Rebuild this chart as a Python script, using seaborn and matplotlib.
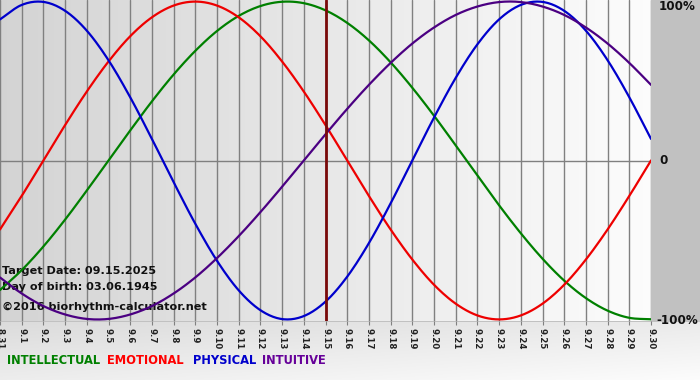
import numpy as np
import pandas as pd
import matplotlib
matplotlib.use("Agg")
import matplotlib.pyplot as plt
import seaborn as sns

# ---- data ----
dates = ["8.31"] + [f"9.{d}" for d in range(1, 31)]
physical = [0.888, 0.979, 0.998, 0.942, 0.817, 0.631, 0.398, 0.136, -0.136, -0.398,
            -0.631, -0.817, -0.942, -0.998, -0.979, -0.888, -0.731, -0.520, -0.270,
            0.000, 0.270, 0.520, 0.731, 0.888, 0.979, 0.998, 0.942, 0.817, 0.631,
            0.398, 0.136]
emotional = [-0.434, -0.223, 0.000, 0.223, 0.434, 0.623, 0.782, 0.901, 0.975, 1.000,
             0.975, 0.901, 0.782, 0.623, 0.434, 0.223, 0.000, -0.223, -0.434, -0.623,
             -0.782, -0.901, -0.975, -1.000, -0.975, -0.901, -0.782, -0.623, -0.434,
             -0.223, 0.000]
intellectual = [-0.815, -0.690, -0.541, -0.372, -0.189, 0.000, 0.189, 0.372, 0.541,
                0.690, 0.815, 0.910, 0.972, 0.999, 0.990, 0.945, 0.866, 0.756, 0.618,
                0.458, 0.282, 0.095, -0.095, -0.282, -0.458, -0.618, -0.756, -0.866,
                -0.945, -0.990, -0.999]
intuitive = [-0.736, -0.837, -0.916, -0.969, -0.997, -0.997, -0.969, -0.916, -0.837,
             -0.736, -0.614, -0.476, -0.325, -0.165, 0.000, 0.165, 0.325, 0.476, 0.614,
             0.736, 0.837, 0.916, 0.969, 0.997, 0.997, 0.969, 0.916, 0.837, 0.736,
             0.614, 0.476]
series_names = ["INTELLECTUAL", "EMOTIONAL", "PHYSICAL", "INTUITIVE"]
colors = {"INTELLECTUAL": "#008000", "EMOTIONAL": "#ee0000",
          "PHYSICAL": "#0000cc", "INTUITIVE": "#4b0082"}
legend_colors = {"INTELLECTUAL": "#008000", "EMOTIONAL": "#ff0000",
                 "PHYSICAL": "#0000cc", "INTUITIVE": "#660099"}
target_index = 15
info_lines = ["Target Date: 09.15.2025", "Day of birth: 03.06.1945",
              "\u00a92016 biorhythm-calculator.net"]
y_labels = ["100%", "0", "-100%"]


def smooth_curve(vals, steps=12):
    """Catmull-Rom rendering of the daily readings (drawing style only)."""
    p = np.asarray(vals, dtype=float)
    n = len(p)
    ext = np.concatenate([[2 * p[0] - p[1]], p, [2 * p[-1] - p[-2]]])
    xs, ys = [], []
    for i in range(n - 1):
        p0, p1, p2, p3 = ext[i], ext[i + 1], ext[i + 2], ext[i + 3]
        t = np.linspace(0, 1, steps, endpoint=False)
        y = 0.5 * ((2 * p1) + (-p0 + p2) * t + (2 * p0 - 5 * p1 + 4 * p2 - p3) * t ** 2
                   + (-p0 + 3 * p1 - 3 * p2 + p3) * t ** 3)
        xs.extend(i + t)
        ys.extend(y)
    xs.append(n - 1)
    ys.append(p[-1])
    return xs, ys


rows = []
for name, vals in zip(series_names, [intellectual, emotional, physical, intuitive]):
    xs, ys = smooth_curve(vals)
    for x, v in zip(xs, ys):
        rows.append({"day": x, "value": v, "series": name})
df = pd.DataFrame(rows)

sns.set_theme(style="white")
plt.rcParams["font.family"] = ["DejaVu Sans"]

W, H = 700, 380
fig = plt.figure(figsize=(7, 3.8), dpi=100)
fig.patch.set_facecolor("#c2c2c2")

# background gradient (bottom strip lighter towards bottom right)
bg = fig.add_axes([0, 0, 1, 1], zorder=-10)
bg.axis("off")
yy, xx = np.mgrid[0:H, 0:W]
val = np.full((H, W), 0.76)
bottom = yy > 321
bv = 0.86 + 0.06 * (xx / W) + 0.07 * ((yy - 321) / 59.0)
val[bottom] = np.clip(bv[bottom], 0, 0.99)
img = np.dstack([val, val, val])
bg.imshow(img, extent=[0, W, H, 0], aspect="auto")
bg.set_xlim(0, W)
bg.set_ylim(H, 0)

# main plot area: x 0..651 px, y 0..321 px
ax = fig.add_axes([0, (H - 321) / H, 651 / W, 321 / H])
grad = np.linspace(0.83, 0.99, 256)[None, :]
ax.imshow(np.dstack([grad, grad, grad]), extent=[0, 30, -1.01, 1.01],
          aspect="auto", zorder=0)

for i in range(0, 31):
    ax.axvline(i, color="#808080", lw=1.0, zorder=1)
ax.axhline(0, color="#808080", lw=1.0, zorder=1)

for k, t in enumerate(info_lines):
    ax.text(2 / 651, 1 - [271, 287, 307][k] / 321, t, fontsize=8.1,
            fontweight="bold", color="#111111", va="center", ha="left",
            transform=ax.transAxes, zorder=2)

sns.lineplot(data=df, x="day", y="value", hue="series", palette=colors,
             hue_order=series_names, legend=False, lw=1.6, ax=ax, zorder=3,
             estimator=None, sort=False)

ax.axvline(target_index, color="#7a0a0a", lw=2.0, zorder=4)

ax.set_xlim(0, 30)
ax.set_ylim(-1.01, 1.01)
ax.set_xticks(range(31))
ax.set_xticklabels(dates, rotation=-90, fontsize=6.2, fontweight="bold",
                   color="#222222")
ax.tick_params(axis="x", length=3, width=0.8, color="#808080", pad=2,
               bottom=True)
ax.set_yticks([])
ax.set_xlabel("")
ax.set_ylabel("")
for s in ax.spines.values():
    s.set_visible(False)

# right labels
fig.text(659 / W, 1 - 7 / H, y_labels[0], fontsize=8.6, fontweight="bold",
         color="#111111", va="center", ha="left")
fig.text(659 / W, 1 - 161 / H, y_labels[1], fontsize=8.6, fontweight="bold",
         color="#111111", va="center", ha="left")
fig.text(656 / W, 1 - 321 / H, y_labels[2], fontsize=8.6, fontweight="bold",
         color="#111111", va="center", ha="left")

# legend text
xs = [7, 107, 193, 262]
for name, x in zip(series_names, xs):
    fig.text(x / W, 1 - 361 / H, name, fontsize=8.3, fontweight="bold",
             color=legend_colors[name], va="center", ha="left")

fig.savefig("out.png", dpi=100, facecolor=fig.get_facecolor())
